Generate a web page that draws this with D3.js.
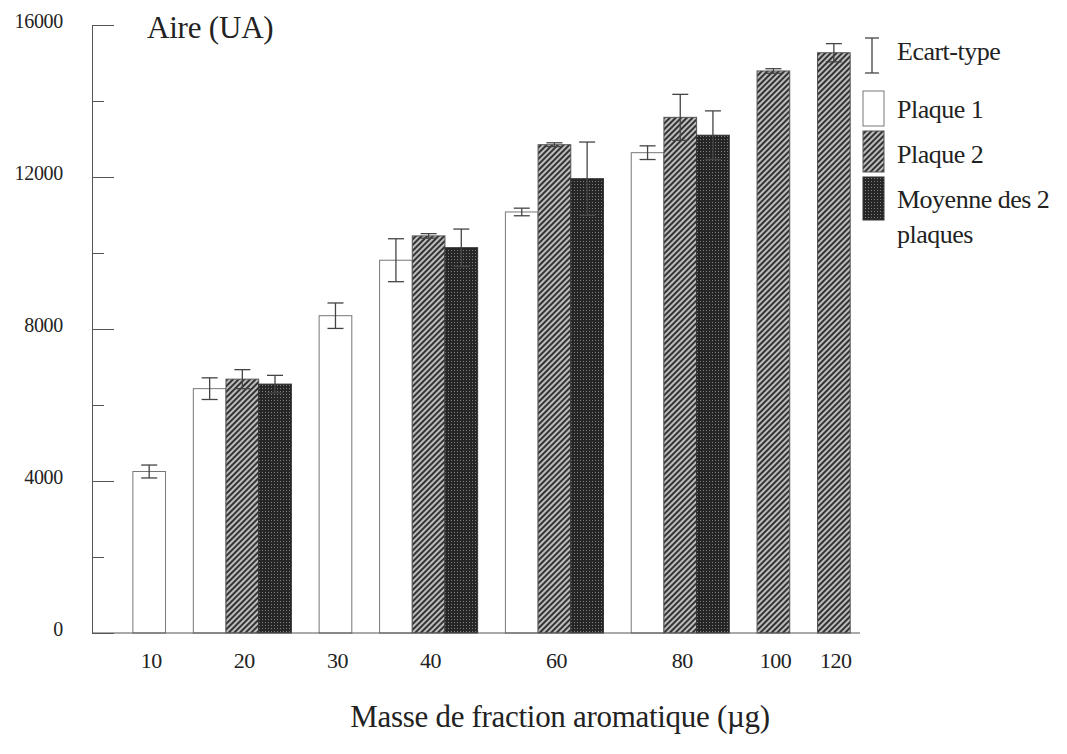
<!DOCTYPE html>
<html>
<head>
<meta charset="utf-8">
<script src="https://cdn.jsdelivr.net/npm/d3@7"></script>
<style>
  html, body { margin: 0; padding: 0; background: #fff; }
  svg { display: block; }
  text { font-family: "Liberation Serif", "Times New Roman", serif; fill: #222; }
</style>
</head>
<body>
<svg id="chart" width="1067" height="754"></svg>
<script>
// ---- data ----
const cats = ["10", "20", "30", "40", "60", "80", "100", "120"];
const plaque1   = [4250, 6430, 8350, 9810, 11080, 12640, null, null];
const plaque1Sd = [170, 285, 335, 565, 100, 180, null, null];
const plaque2   = [null, 6680, null, 10450, 12850, 13570, 14790, 15270];
const plaque2Sd = [null, 250, null, 60, 50, 605, 60, 240];
const moyenne   = [null, 6550, null, 10140, 11955, 13100, null, null];
const moyenneSd = [null, 230, null, 490, 965, 640, null, null];
const yTicks = [0, 4000, 8000, 12000, 16000];
const yMinorTicks = [2000, 6000, 10000, 14000];
const legendLabels = ["Ecart-type", "Plaque 1", "Plaque 2", "Moyenne des 2", "plaques"];
const yTitle = "Aire (UA)";
const xTitle = "Masse de fraction aromatique (\u00b5g)";

(function () {
const svg = d3.select("#chart");
const defs = svg.append("defs");

// hatch pattern for Plaque 2
const hatch = defs.append("pattern").attr("id", "hatch")
  .attr("patternUnits", "userSpaceOnUse").attr("width", 4).attr("height", 4)
  .attr("patternTransform", "rotate(45)");
hatch.append("rect").attr("width", 4).attr("height", 4).attr("fill", "#bdbdbd");
hatch.append("rect").attr("width", 2).attr("height", 4).attr("fill", "#333");

// stipple pattern for Moyenne
const dots = defs.append("pattern").attr("id", "dots")
  .attr("patternUnits", "userSpaceOnUse").attr("width", 3).attr("height", 3);
dots.append("rect").attr("width", 3).attr("height", 3).attr("fill", "#262626");
dots.append("rect").attr("x", 1).attr("y", 1).attr("width", 1).attr("height", 1).attr("fill", "#7e7e7e");

const series = [
  { name: "Plaque 1", values: plaque1, sd: plaque1Sd, fill: "#ffffff", stroke: "#777" },
  { name: "Plaque 2", values: plaque2, sd: plaque2Sd, fill: "url(#hatch)", stroke: "#555" },
  { name: "Moyenne", values: moyenne, sd: moyenneSd, fill: "url(#dots)", stroke: "#333" }
];

// layout in bar units: groups contain only present bars
const startPad = 1.25, gapU = 0.85, endPad = 0.3;
let cursor = startPad;
const bars = [], groups = [];
cats.forEach((c, i) => {
  const start = cursor;
  series.forEach(s => {
    if (s.values[i] != null) {
      bars.push({ s: s, u: cursor, v: s.values[i], sd: s.sd[i] });
      cursor += 1;
    }
  });
  groups.push({ cat: c, center: (start + cursor) / 2 });
  cursor += gapU;
});
const totalU = cursor - gapU + endPad;

const mLeft = 92, mRight = 860, mTop = 25, mBottom = 633;
const x = d3.scaleLinear().domain([0, totalU]).range([mLeft, mRight]);
const y = d3.scaleLinear().domain([0, 16000]).range([mBottom, mTop]);
const bw = x(1) - x(0);

// bars
svg.append("g").selectAll("rect").data(bars).join("rect")
  .attr("x", d => x(d.u))
  .attr("y", d => y(d.v))
  .attr("width", bw)
  .attr("height", d => y(0) - y(d.v))
  .attr("fill", d => d.s.fill)
  .attr("stroke", d => d.s.stroke)
  .attr("stroke-width", 1);

// error bars
const eb = svg.append("g").attr("stroke", "#444").attr("stroke-width", 1.3);
bars.forEach(d => {
  const cx = x(d.u + 0.5);
  eb.append("line").attr("x1", cx).attr("x2", cx).attr("y1", y(d.v + d.sd)).attr("y2", y(d.v - d.sd));
  eb.append("line").attr("x1", cx - 8).attr("x2", cx + 8).attr("y1", y(d.v + d.sd)).attr("y2", y(d.v + d.sd));
  eb.append("line").attr("x1", cx - 8).attr("x2", cx + 8).attr("y1", y(d.v - d.sd)).attr("y2", y(d.v - d.sd));
});

// y axis
const yAxis = d3.axisLeft(y).tickValues(yTicks).tickSizeInner(-22).tickSizeOuter(0).tickPadding(29)
  .tickFormat(d3.format("d"));
const ga = svg.append("g").attr("transform", `translate(${mLeft},0)`).call(yAxis);
ga.select(".domain").attr("stroke", "#555");
ga.selectAll(".tick line").attr("stroke", "#555");
ga.selectAll(".tick text").attr("font-size", 20).attr("dy", "0.12em").attr("fill", "#222")
  .attr("letter-spacing", "-0.3");
const yMinor = d3.axisLeft(y).tickValues(yMinorTicks).tickSizeInner(-12).tickSizeOuter(0).tickFormat("");
const gm = svg.append("g").attr("transform", `translate(${mLeft},0)`).call(yMinor);
gm.select(".domain").remove();
gm.selectAll(".tick line").attr("stroke", "#555");

// x axis baseline
svg.append("line").attr("x1", mLeft).attr("x2", mRight).attr("y1", y(0)).attr("y2", y(0))
  .attr("stroke", "#555").attr("stroke-width", 1);

// x labels
svg.append("g").selectAll("text").data(groups).join("text")
  .attr("x", d => x(d.center) + 2)
  .attr("y", 668)
  .attr("text-anchor", "middle")
  .attr("font-size", 22)
  .attr("letter-spacing", "-0.5")
  .text(d => d.cat);

// titles
svg.append("text").attr("x", 147).attr("y", 38).attr("font-size", 31).attr("letter-spacing", "-0.2").text(yTitle);
svg.append("text").attr("x", 560).attr("y", 727).attr("text-anchor", "middle").attr("font-size", 31)
  .attr("letter-spacing", "-0.3").text(xTitle);

// legend
const lg = svg.append("g");
lg.append("line").attr("x1", 872).attr("x2", 872).attr("y1", 38).attr("y2", 73).attr("stroke", "#444").attr("stroke-width", 1.3);
lg.append("line").attr("x1", 865).attr("x2", 879).attr("y1", 38).attr("y2", 38).attr("stroke", "#444").attr("stroke-width", 1.3);
lg.append("line").attr("x1", 865).attr("x2", 879).attr("y1", 73).attr("y2", 73).attr("stroke", "#444").attr("stroke-width", 1.3);
const swatches = [
  { y0: 91, h: 35, s: series[0] },
  { y0: 131, h: 41, s: series[1] },
  { y0: 177, h: 43, s: series[2] }
];
lg.selectAll("rect.sw").data(swatches).join("rect").attr("class", "sw")
  .attr("x", 863).attr("y", d => d.y0).attr("width", 21).attr("height", d => d.h)
  .attr("fill", d => d.s.fill).attr("stroke", d => d.s.stroke);
const legY = [60, 118, 163, 208, 243];
lg.selectAll("text").data(legendLabels).join("text")
  .attr("x", 897).attr("y", (d, i) => legY[i])
  .attr("font-size", 26).attr("letter-spacing", "-0.5")
  .text(d => d);
})();
</script>
</body>
</html>
